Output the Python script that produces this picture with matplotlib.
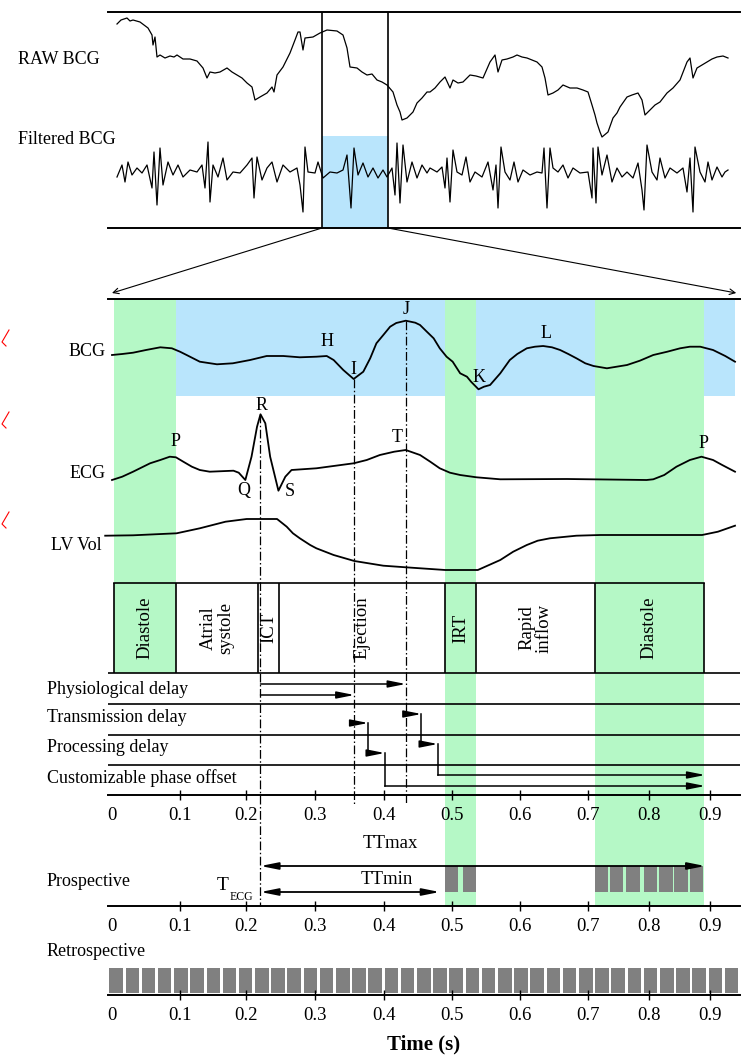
import numpy as np
import matplotlib
matplotlib.use('Agg')
import matplotlib.pyplot as plt
from matplotlib.patches import Rectangle, ConnectionPatch
from matplotlib.lines import Line2D

plt.rcParams['font.family'] = ['Liberation Serif', 'DejaVu Serif']
plt.rcParams['mathtext.fontset'] = 'stix'

# ---- top panel: raw / filtered BCG (sample index, amplitude) ----
RAW_X = [9, 13, 19, 22, 25, 32, 40, 44, 45, 47,
         49, 52, 57, 62, 66, 69, 75, 82, 89, 95,
         99, 102, 107, 112, 119, 124, 129, 134, 139, 144,
         147, 152, 159, 164, 166, 169, 175, 182, 187, 190,
         192, 195, 197, 205, 212, 219, 229, 235, 239, 242,
         249, 254, 259, 264, 269, 274, 279, 285, 289, 292,
         294, 299, 305, 309, 314, 319, 322, 327, 332, 337,
         342, 345, 350, 355, 362, 368, 375, 382, 387, 390,
         394, 399, 405, 409, 414, 419, 429, 434, 437, 440,
         445, 450, 455, 462, 469, 475, 480, 484, 487, 489,
         492, 494, 500, 505, 509, 512, 519, 524, 530, 534,
         537, 542, 547, 552, 559, 565, 572, 579, 582, 585,
         589, 594, 599, 604, 609, 615, 620]
RAW_Y = [204, 208, 210, 207, 208, 206, 200, 193, 183, 191,
         171, 173, 170, 172, 171, 173, 169, 169, 167, 160,
         150, 156, 155, 156, 160, 156, 153, 150, 145, 141,
         128, 131, 135, 141, 136, 153, 161, 175, 188, 196,
         196, 178, 190, 191, 195, 198, 197, 193, 180, 161,
         160, 156, 153, 154, 148, 146, 143, 136, 123, 116,
         108, 110, 116, 125, 130, 136, 136, 140, 146, 151,
         140, 148, 145, 146, 153, 152, 150, 166, 173, 156,
         168, 169, 171, 173, 171, 170, 166, 161, 150, 133,
         135, 138, 143, 140, 140, 138, 136, 123, 113, 105,
         96, 91, 96, 110, 115, 121, 131, 133, 135, 128,
         113, 118, 123, 126, 135, 140, 148, 166, 170, 150,
         160, 163, 166, 169, 171, 172, 170]

FILT_X = [9, 14, 17, 20, 24, 29, 34, 39, 44, 46,
          49, 52, 55, 60, 65, 70, 75, 82, 89, 94,
          97, 100, 102, 105, 110, 115, 119, 125, 132, 139,
          144, 146, 149, 154, 159, 164, 169, 175, 182, 189,
          192, 195, 197, 200, 207, 210, 215, 222, 229, 235,
          239, 243, 246, 250, 255, 260, 265, 270, 275, 279,
          284, 287, 289, 292, 295, 299, 304, 309, 314, 319,
          322, 329, 334, 337, 339, 342, 345, 349, 354, 358,
          362, 367, 374, 380, 385, 388, 390, 393, 397, 402,
          406, 410, 415, 422, 429, 434, 436, 439, 442, 445,
          450, 455, 460, 465, 472, 480, 484, 485, 488, 490,
          494, 499, 504, 509, 514, 519, 525, 530, 534, 536,
          539, 544, 549, 552, 557, 562, 569, 575, 579, 582,
          585, 587, 592, 597, 600, 604, 609, 614, 617, 620]
FILT_Y = [51, 63, 46, 66, 53, 60, 55, 63, 40, 76,
          23, 80, 43, 66, 53, 63, 51, 58, 56, 63,
          40, 86, 26, 63, 51, 70, 48, 56, 55, 63,
          70, 30, 71, 48, 60, 66, 46, 63, 56, 60,
          43, 16, 81, 56, 55, 66, 50, 56, 55, 58,
          73, 20, 80, 53, 65, 51, 60, 50, 58, 51,
          60, 33, 85, 25, 83, 46, 66, 50, 63, 55,
          60, 56, 61, 40, 70, 26, 78, 56, 53, 71,
          46, 56, 51, 66, 38, 63, 20, 81, 56, 48,
          66, 46, 58, 53, 56, 55, 80, 20, 80, 60,
          56, 63, 50, 60, 55, 56, 30, 80, 25, 81,
          53, 73, 46, 60, 51, 56, 50, 65, 38, 18,
          83, 56, 48, 70, 50, 60, 55, 60, 36, 70,
          16, 81, 56, 46, 66, 48, 61, 51, 56, 58]
WINDOW = [214, 280]

# ---- one cardiac cycle (time in s, amplitude) ----
BCG_T = [0.0, 0.015, 0.031, 0.050, 0.071, 0.088, 0.100, 0.110, 0.130, 0.156,
         0.180, 0.206, 0.230, 0.254, 0.278, 0.302, 0.317, 0.327, 0.341, 0.356,
         0.370, 0.380, 0.389, 0.399, 0.409, 0.418, 0.432, 0.446, 0.453, 0.463,
         0.473, 0.482, 0.492, 0.501, 0.512, 0.522, 0.528, 0.539, 0.547, 0.556,
         0.571, 0.585, 0.596, 0.610, 0.622, 0.634, 0.647, 0.659, 0.671, 0.683,
         0.696, 0.709, 0.731, 0.764, 0.785, 0.807, 0.830, 0.851, 0.867, 0.884,
         0.905, 0.925, 0.941]
BCG_AMP = [1, 2, 3.3, 6, 8.7, 7.7, 4.3, 1, -5.7, -8.3,
           -7.3, -4, 0, 0, -1.3, -0.7, 0, -4, -14, -23,
           -15.7, -2.3, 12.7, 21, 29.3, 33, 35.3, 33.3, 31, 24.3,
           17.7, 7.7, -0.7, -5.7, -17.3, -20.7, -25.7, -33.3, -30.7, -29,
           -17.3, -4, 2, 7.7, 9.3, 10, 8.7, 6, 2, -2.3,
           -7.3, -10, -12.3, -9, -4.7, 1, 4.3, 7.7, 9.3, 9.3,
           6, 0, -5.7]
ECG_T = [0.0, 0.015, 0.031, 0.056, 0.071, 0.085, 0.094, 0.105, 0.118, 0.130,
         0.145, 0.181, 0.189, 0.199, 0.208, 0.216, 0.221, 0.228, 0.235, 0.247,
         0.257, 0.266, 0.302, 0.356, 0.375, 0.394, 0.415, 0.432, 0.453, 0.468,
         0.482, 0.497, 0.512, 0.536, 0.571, 0.669, 0.796, 0.807, 0.825, 0.845,
         0.867, 0.886, 0.905, 0.920, 0.941]
ECG_AMP = [-8, -4.7, 0.3, 8.7, 12, 15.3, 14.7, 10.3, 5.3, 2,
           0.3, 1.3, -0.7, -8, 15.3, 45.3, 57.7, 48.7, 15.3, -18.7,
           -4.7, 2, 3.7, 8.7, 12, 17, 20.3, 22, 17, 10.3,
           3.7, -0.7, -3, -5.3, -7.3, -7, -8, -7.3, -3, 5.3,
           12, 15.3, 12, 7, 0.3]
LV_T = [-0.010, 0.031, 0.095, 0.130, 0.169, 0.201, 0.245, 0.259, 0.268, 0.278,
        0.293, 0.302, 0.327, 0.357, 0.399, 0.432, 0.490, 0.538, 0.571, 0.590,
        0.610, 0.626, 0.644, 0.683, 0.720, 0.887, 0.913, 0.941]
LV_AMP = [-0.7, -0.3, 1.7, 6.7, 13.3, 16, 16, 8.3, 1.7, -3.3,
          -10, -13.3, -20, -26, -30.7, -32.3, -35, -35, -25, -16.7,
          -10, -5.7, -3.3, -0.7, 0, 0, 3.3, 9.3]

T_R, T_I, T_J = 0.221, 0.357, 0.432
PHASE_EDGES = [0.003, 0.094, 0.217, 0.248, 0.490, 0.535, 0.711, 0.890]
PHASE_NAMES = ['Diastole', 'Atrial\nsystole', 'ICT', 'Ejection', 'IRT',
               'Rapid\ninflow', 'Diastole']
GREEN_SPANS = [(0.003, 0.094), (0.490, 0.535), (0.711, 0.890)]
BLUE_SPANS = [(0.094, 0.490), (0.535, 0.711), (0.890, 0.941)]
TRANS_END = [0.455, 0.377]      # from J, from I
PROC_END = [0.479, 0.401]
OFFSET_END = 0.892
TTMIN_END = 0.482
PRO_START = [0.490, 0.516, 0.711, 0.736, 0.763, 0.791, 0.817, 0.841, 0.868]
PRO_END = [0.509, 0.535, 0.733, 0.758, 0.785, 0.813, 0.839, 0.864, 0.889]
RETRO_START = [-0.004, 0.0199, 0.0437, 0.0675, 0.0913, 0.1156, 0.1402, 0.1647,
               0.1892, 0.2132, 0.2367, 0.2601, 0.2836, 0.3071, 0.3306, 0.3541,
               0.3775, 0.4010, 0.4249, 0.4487, 0.4725, 0.4963, 0.5201, 0.5440,
               0.5678, 0.5916, 0.6154, 0.6393, 0.6631, 0.6869, 0.7120, 0.7385,
               0.7651, 0.7916, 0.8182, 0.8448, 0.8713, 0.8979, 0.9244]
RETRO_END = [0.0159, 0.0397, 0.0635, 0.0874, 0.1115, 0.1361, 0.1606, 0.1852,
             0.2093, 0.2328, 0.2562, 0.2797, 0.3032, 0.3267, 0.3501, 0.3736,
             0.3971, 0.4209, 0.4447, 0.4685, 0.4924, 0.5162, 0.5400, 0.5638,
             0.5876, 0.6115, 0.6353, 0.6591, 0.6829, 0.7075, 0.7341, 0.7607,
             0.7872, 0.8138, 0.8403, 0.8669, 0.8934, 0.9200, 0.9466]
TICKS = [0, 0.1, 0.2, 0.3, 0.4, 0.5, 0.6, 0.7, 0.8, 0.9]
TICK_LABELS = ['0', '0.1', '0.2', '0.3', '0.4', '0.5', '0.6', '0.7', '0.8', '0.9']

GREEN = '#b5f8c6'
BLUE = '#b9e5fc'
GRAY = '#808080'

# the drawn time axis is not quite uniform: piecewise scale through the ticks
KNOT_T = [-1.0, 0, 0.1, 0.2, 0.3, 0.4, 0.5, 0.6, 0.7, 0.8, 0.9, 2.0]
KNOT_U = [-568, 112, 180, 246, 315, 384, 452, 520, 588, 649, 710, 1381]


def fwd(t):
    return np.interp(t, KNOT_T, KNOT_U)


def inv(u):
    return np.interp(u, KNOT_U, KNOT_T)


W, H = 755, 1060


def rect(x0, y0, x1, y1):
    return [x0 / W, 1 - y1 / H, (x1 - x0) / W, (y1 - y0) / H]


def ftext(x, y, s, **kw):
    fig.text(x / W, 1 - y / H, s, **kw)


fig = plt.figure(figsize=(W / 100, H / 100), dpi=100)

# ---------------- top panel ----------------
ax_top = fig.add_axes(rect(108, 12, 740, 228))
ax_top.set_xlim(0, 632)
ax_top.set_ylim(0, 216)
ax_top.axvspan(WINDOW[0], WINDOW[1], ymin=0, ymax=92 / 216, color=BLUE, lw=0)
ax_top.plot(RAW_X, RAW_Y, color='k', lw=0.9)
ax_top.plot(FILT_X, FILT_Y, color='k', lw=0.9)
for w in WINDOW:
    ax_top.axvline(w, color='k', lw=1.2)
for s in ['left', 'right']:
    ax_top.spines[s].set_visible(False)
for s in ['top', 'bottom']:
    ax_top.spines[s].set_linewidth(1.4)
ax_top.set_xticks([])
ax_top.set_yticks([])
ftext(18, 60, 'RAW BCG', fontsize=13, va='center')
ftext(18, 140, 'Filtered BCG', fontsize=13, va='center')

# ---------------- main panel ----------------
ax = fig.add_axes(rect(108, 299, 740, 906))
ax.set_xscale('function', functions=(fwd, inv))
ax.set_xlim(inv(108), inv(740))
ax.set_ylim(906, 299)
for s in ['left', 'right']:
    ax.spines[s].set_visible(False)
for s in ['top', 'bottom']:
    ax.spines[s].set_linewidth(1.4)
ax.set_yticks([])

ax.add_patch(Rectangle((GREEN_SPANS[0][0], 299), GREEN_SPANS[0][1] - GREEN_SPANS[0][0],
                       673 - 299, color=GREEN, lw=0))
for a, b in GREEN_SPANS[1:]:
    ax.add_patch(Rectangle((a, 299), b - a, 906 - 299, color=GREEN, lw=0))
for a, b in BLUE_SPANS:
    ax.add_patch(Rectangle((a, 299), b - a, 396 - 299, color=BLUE, lw=0))

BCG_BASE, ECG_BASE, LV_BASE = 356, 472, 535
curve = dict(color='k', lw=1.3, solid_joinstyle='round')
ax.plot(BCG_T, BCG_BASE - np.array(BCG_AMP), **curve)
ax.plot(ECG_T, ECG_BASE - np.array(ECG_AMP), **curve)
ax.plot(LV_T, LV_BASE - np.array(LV_AMP), clip_on=False, **curve)

dd = (0, (7, 2, 1.2, 2))
ax.vlines(T_R, 414, 906, colors='k', lw=0.9, linestyles=[dd])
ax.vlines(T_I, 379, 805, colors='k', lw=0.9, linestyles=[dd])
ax.vlines(T_J, 321, 805, colors='k', lw=0.9, linestyles=[dd])

wave_labels = [('H', 0.318, 342), ('I', 0.355, 369), ('J', 0.432, 310),
               ('K', 0.539, 378), ('L', 0.638, 334), ('P', 0.093, 442),
               ('R', 0.222, 406), ('Q', 0.197, 491), ('S', 0.264, 491),
               ('T', 0.419, 437), ('P', 0.890, 443)]
for s, t, r in wave_labels:
    ax.text(t, r, s, fontsize=13, ha='center', va='center')

ftext(106, 352, 'BCG', fontsize=13, ha='right', va='center')
ftext(106, 474, 'ECG', fontsize=13, ha='right', va='center')
ftext(102, 546, 'LV Vol', fontsize=13, ha='right', va='center')

# phase boxes
ax.plot([PHASE_EDGES[0], PHASE_EDGES[-1]], [583, 583], color='k', lw=1.2)
ax.vlines(PHASE_EDGES, 583, 673, colors='k', lw=1.2)
for a, b, name in zip(PHASE_EDGES[:-1], PHASE_EDGES[1:], PHASE_NAMES):
    mid = inv((fwd(a) + fwd(b)) / 2)
    ax.text(mid, 628, name, rotation=90, fontsize=13.5, ha='center', va='center',
            multialignment='center', linespacing=1.0)

# delay rows
for r in [673, 704, 735, 765]:
    ax.axhline(r, color='k', lw=1.2)
row_labels = [('Physiological delay', 690), ('Transmission delay', 718),
              ('Processing delay', 748), ('Customizable phase offset', 778)]
for s, r in row_labels:
    ftext(47, r, s, fontsize=13, va='center')

arr = dict(arrowstyle='-|>,head_length=0.7,head_width=0.14', color='k', lw=1.1,
           mutation_scale=15, shrinkA=0, shrinkB=0)


def arrow(t0, t1, r):
    ax.annotate('', xy=(t1, r), xytext=(t0, r), arrowprops=arr)


arrow(T_R, T_J, 684)
arrow(T_R, T_I, 695)
arrow(T_J, TRANS_END[0], 714)
arrow(T_I, TRANS_END[1], 723)
ax.plot([TRANS_END[0]] * 2, [714, 744], color='k', lw=1.1)
ax.plot([TRANS_END[1]] * 2, [723, 753], color='k', lw=1.1)
arrow(TRANS_END[0], PROC_END[0], 744)
arrow(TRANS_END[1], PROC_END[1], 753)
ax.plot([PROC_END[0]] * 2, [744, 775], color='k', lw=1.1)
ax.plot([PROC_END[1]] * 2, [753, 786], color='k', lw=1.1)
arrow(PROC_END[0], OFFSET_END, 775)
arrow(PROC_END[1], OFFSET_END, 786)

# prospective
ax.broken_barh([(a, b - a) for a, b in zip(PRO_START, PRO_END)], (866, 26),
               facecolors=GRAY, lw=0)
dbl = dict(arrowstyle='<|-|>,head_length=0.7,head_width=0.14', color='k', lw=1.3,
           mutation_scale=15, shrinkA=0, shrinkB=0)
ax.annotate('', xy=(OFFSET_END, 866), xytext=(T_R, 866), arrowprops=dbl)
ax.annotate('', xy=(TTMIN_END, 892), xytext=(T_R, 892), arrowprops=dbl)
ftext(390, 843, 'TTmax', fontsize=13.5, ha='center', va='center')
ftext(387, 880, 'TTmin', fontsize=13.5, ha='center', va='center')
ftext(229, 885, 'T', fontsize=14, ha='right', va='center')
ftext(230, 897, 'ECG', fontsize=8.5, ha='left', va='center')
ftext(47, 882, 'Prospective', fontsize=13, va='center')
ftext(47, 951, 'Retrospective', fontsize=13, va='center')

# mid time axis
ax1 = fig.add_axes(rect(108, 794, 740, 795), sharex=ax)
ax1.patch.set_alpha(0)
for s in ['left', 'right', 'top']:
    ax1.spines[s].set_visible(False)
ax1.spines['bottom'].set_linewidth(1.4)
ax1.set_yticks([])

# retrospective
axr = fig.add_axes(rect(108, 960, 740, 995), sharex=ax)
axr.set_ylim(995, 960)
axr.patch.set_alpha(0)
for s in ['left', 'right', 'top']:
    axr.spines[s].set_visible(False)
axr.spines['bottom'].set_linewidth(1.4)
axr.set_yticks([])
axr.broken_barh([(a, b - a) for a, b in zip(RETRO_START, RETRO_END)], (968, 25),
                facecolors=GRAY, lw=0)
axr.set_xlabel('Time (s)', fontsize=15, fontweight='bold', labelpad=8)

for a in [ax, ax1, axr]:
    a.set_xticks(TICKS)
    a.set_xticklabels(TICK_LABELS)
    a.tick_params(axis='x', direction='inout', length=7, width=1, labelsize=13.5,
                  pad=5)
    a.xaxis.set_minor_locator(matplotlib.ticker.NullLocator())
    a.xaxis.get_major_ticks()[0].tick1line.set_visible(False)

# zoom lines from the window to the cycle axis
for xa, xb in [(WINDOW[0], 0.0), (WINDOW[1], 0.943)]:
    con = ConnectionPatch(xyA=(xa, 0), coordsA=ax_top.transData,
                          xyB=(xb, 293), coordsB=ax.transData,
                          arrowstyle='->', mutation_scale=10, lw=0.8, color='k')
    fig.add_artist(con)

# small red marks on the left margin
for y in [338, 420, 520]:
    fig.add_artist(Line2D([9 / W, 2 / W, 6 / W],
                          [1 - (y - 8) / H, 1 - (y + 4) / H, 1 - (y + 8) / H],
                          color='red', lw=0.8))

fig.savefig('out.png', dpi=100)
